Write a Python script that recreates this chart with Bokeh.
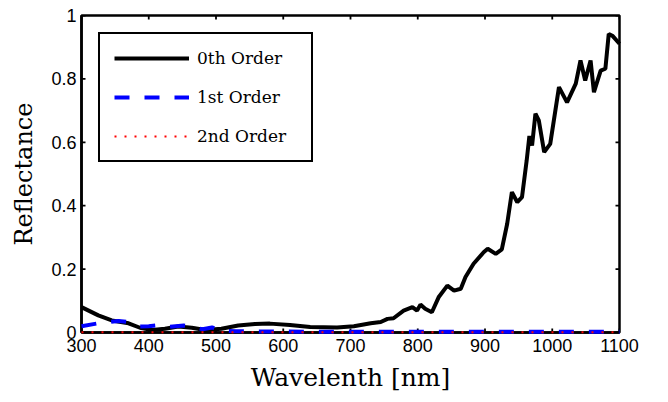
import math
from bokeh.plotting import figure
from bokeh.models import Range1d, FixedTicker, Legend, LegendItem
from bokeh.embed import file_html
from bokeh.resources import INLINE

# ---- data ----
zero_x = [300, 325, 345, 370, 387, 405, 424, 444, 464, 484, 508, 533, 558, 580, 610,
          640, 680, 705, 730, 745, 755, 764, 779, 792, 799, 804, 811, 821, 831, 844,
          854, 864, 871, 883, 898, 904, 916, 925, 933, 940, 948, 955, 962, 966, 970,
          975, 980, 988, 997, 1010, 1022, 1035, 1042, 1049, 1057, 1062, 1072, 1079,
          1084, 1090, 1100]
zero_y = [0.080, 0.054, 0.038, 0.029, 0.015, 0.008, 0.012, 0.019, 0.015, 0.008, 0.012,
          0.022, 0.027, 0.028, 0.024, 0.017, 0.016, 0.020, 0.029, 0.033, 0.043, 0.045,
          0.069, 0.080, 0.069, 0.088, 0.075, 0.064, 0.111, 0.148, 0.132, 0.138, 0.175,
          0.217, 0.253, 0.264, 0.248, 0.262, 0.343, 0.443, 0.411, 0.427, 0.543, 0.620,
          0.590, 0.690, 0.669, 0.569, 0.595, 0.774, 0.726, 0.785, 0.858, 0.795, 0.858,
          0.758, 0.826, 0.832, 0.942, 0.935, 0.911]

first_x = [300, 322, 335, 355, 370, 387, 400, 410, 424, 440, 452, 464, 480, 494, 508,
           530, 600, 700, 800, 900, 1000, 1100]
first_y = [0.020, 0.028, 0.032, 0.036, 0.033, 0.019, 0.020, 0.022, 0.017, 0.020, 0.022,
           0.019, 0.010, 0.016, 0.006, 0.004, 0.003, 0.002, 0.002, 0.002, 0.002, 0.002]

second_x = [300, 400, 500, 600, 700, 800, 900, 1000, 1100]
second_y = [0.001, 0.001, 0.001, 0.001, 0.001, 0.001, 0.001, 0.001, 0.001]

x_ticks = [300, 400, 500, 600, 700, 800, 900, 1000, 1100]
y_ticks = [0, 0.2, 0.4, 0.6, 0.8, 1]
y_tick_labels = {0: "0", 0.2: "0.2", 0.4: "0.4", 0.6: "0.6", 0.8: "0.8", 1: "1"}

SANS = "Liberation Sans"
SERIF = "DejaVu Serif"
X_MIN, X_MAX = 300, 1100
Y_MIN, Y_MAX = 0, 1

p = figure(width=660, height=394, output_backend="svg", toolbar_location=None,
           x_range=Range1d(X_MIN, X_MAX), y_range=Range1d(Y_MIN, Y_MAX),
           min_border_left=81, min_border_right=41, min_border_top=15, min_border_bottom=62)
p.grid.visible = False
p.background_fill_color = "white"
p.border_fill_color = "white"
p.outline_line_color = "black"
p.outline_line_width = 2.5
p.outline_line_alpha = 1

# inward tick marks on all four sides (half of each dash is clipped by the frame)
tick_style = dict(marker="dash", size=8, line_color="black", line_width=1.8)
p.scatter(x_ticks, [Y_MIN] * len(x_ticks), angle=math.pi / 2, **tick_style)
p.scatter(x_ticks, [Y_MAX] * len(x_ticks), angle=math.pi / 2, **tick_style)
p.scatter([X_MIN] * len(y_ticks), y_ticks, angle=0, **tick_style)
p.scatter([X_MAX] * len(y_ticks), y_ticks, angle=0, **tick_style)

r0 = p.line(zero_x, zero_y, line_color="black", line_width=4, level="overlay")
r1 = p.line(first_x, first_y, line_color="#0000ff", line_width=4, line_dash="15 15",
            level="overlay")
r2 = p.line(second_x, second_y, line_color="#ff0000", line_width=2, line_dash="2 8",
            level="overlay")

def style_axis(ax):
    ax.major_tick_in = 0
    ax.major_tick_out = 0
    ax.minor_tick_line_color = None
    ax.axis_line_color = "black"
    ax.axis_line_width = 2.5
    ax.major_tick_line_color = None
    ax.major_label_text_font = SANS
    ax.major_label_text_font_size = "18px"
    ax.major_label_text_color = "black"

xa = p.xaxis[0]
xa.ticker = FixedTicker(ticks=x_ticks)
style_axis(xa)
xa.major_label_standoff = 6
xa.axis_label = "Wavelenth [nm]"
xa.axis_label_text_font = SERIF
xa.axis_label_text_font_size = "25px"
xa.axis_label_text_font_style = "normal"
xa.axis_label_text_color = "black"
xa.axis_label_standoff = 8

ya = p.yaxis[0]
ya.ticker = FixedTicker(ticks=y_ticks)
ya.major_label_overrides = y_tick_labels
style_axis(ya)
ya.major_label_standoff = 5
ya.axis_label = "Reflectance"
ya.axis_label_text_font = SERIF
ya.axis_label_text_font_size = "24px"
ya.axis_label_text_font_style = "normal"
ya.axis_label_text_color = "black"
ya.axis_label_standoff = 10

legend = Legend(items=[LegendItem(label="0th Order", renderers=[r0]),
                       LegendItem(label="1st Order", renderers=[r1]),
                       LegendItem(label="2nd Order", renderers=[r2])],
                location="top_left")
legend.margin = 17
legend.padding = 14
legend.spacing = 19
legend.glyph_width = 75
legend.glyph_height = 20
legend.label_standoff = 8
legend.label_width = 100
legend.label_text_font = SERIF
legend.label_text_font_size = "17px"
legend.label_text_color = "black"
legend.border_line_color = "black"
legend.border_line_width = 2.5
legend.border_line_alpha = 1
legend.background_fill_alpha = 1
p.add_layout(legend)

open("out.html", "w").write(file_html(p, INLINE))
